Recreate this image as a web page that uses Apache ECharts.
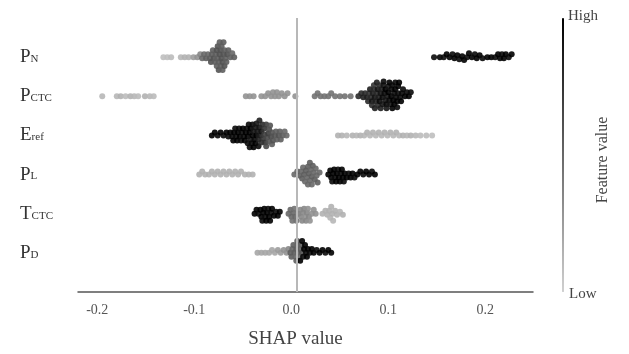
<!DOCTYPE html>
<html>
<head>
<meta charset="utf-8">
<script src="https://cdn.jsdelivr.net/npm/echarts@6/dist/echarts.min.js"></script>
<style>
  html, body { margin: 0; padding: 0; background: #fff; }
  #chart { width: 629px; height: 354px; }
</style>
</head>
<body>
<div id="chart"></div>
<script>
// feature rows, top to bottom
const mainLetters = ['P', 'P', 'E', 'P', 'T', 'P'];
const subLetters = ['N', 'CTC', 'ref', 'L', 'CTC', 'D'];
const xTicks = [-0.2, -0.1, 0, 0.1, 0.2];

// [SHAP value, feature value 0..1]
const pnPoints = [
  [-0.137, 0.08], [-0.133, 0.08], [-0.129, 0.1], [-0.119, 0.12], [-0.115, 0.15], [-0.111, 0.15],
  [-0.106, 0.25], [-0.102, 0.3], [-0.099, 0.35],
  [-0.097, 0.5], [-0.095, 0.5], [-0.093, 0.55], [-0.091, 0.5], [-0.089, 0.55], [-0.088, 0.6],
  [-0.087, 0.55], [-0.086, 0.55], [-0.085, 0.6], [-0.084, 0.55], [-0.083, 0.55], [-0.082, 0.6],
  [-0.082, 0.55], [-0.081, 0.55], [-0.081, 0.6], [-0.080, 0.55], [-0.080, 0.6],
  [-0.079, 0.6], [-0.079, 0.55], [-0.078, 0.6], [-0.078, 0.55],
  [-0.077, 0.6], [-0.077, 0.55], [-0.076, 0.6], [-0.076, 0.55],
  [-0.075, 0.6], [-0.075, 0.55], [-0.074, 0.55], [-0.074, 0.6], [-0.073, 0.55], [-0.072, 0.55],
  [-0.071, 0.6], [-0.070, 0.55], [-0.068, 0.55], [-0.066, 0.5], [-0.064, 0.55],
  [0.142, 0.95], [0.148, 1], [0.152, 0.95], [0.155, 1], [0.158, 1], [0.161, 0.95], [0.163, 1],
  [0.166, 1], [0.168, 0.95], [0.171, 1], [0.173, 1], [0.176, 0.95], [0.178, 1], [0.181, 1],
  [0.184, 0.95], [0.186, 1], [0.189, 1], [0.192, 0.95], [0.197, 1], [0.201, 1], [0.205, 0.95],
  [0.208, 1], [0.210, 1], [0.212, 0.95], [0.214, 1], [0.216, 1], [0.219, 0.95], [0.222, 1]
];
const pctcPoints = [
  [-0.200, 0.12], [-0.185, 0.12], [-0.181, 0.15], [-0.176, 0.1], [-0.171, 0.15], [-0.167, 0.12],
  [-0.163, 0.1], [-0.156, 0.15], [-0.151, 0.12], [-0.147, 0.1],
  [-0.052, 0.3], [-0.048, 0.3], [-0.044, 0.3], [-0.036, 0.3], [-0.032, 0.3], [-0.029, 0.3],
  [-0.026, 0.3], [-0.024, 0.3], [-0.022, 0.3], [-0.020, 0.3], [-0.018, 0.3], [-0.015, 0.3],
  [-0.012, 0.3], [-0.009, 0.3], [-0.001, 0.3],
  [0.019, 0.45], [0.022, 0.45], [0.025, 0.45], [0.029, 0.45], [0.033, 0.45], [0.036, 0.45],
  [0.040, 0.45], [0.045, 0.45], [0.050, 0.45], [0.056, 0.45],
  [0.064, 0.8], [0.067, 0.8], [0.069, 0.85], [0.071, 0.8], [0.073, 0.85], [0.074, 0.8],
  [0.075, 0.75], [0.076, 0.85], [0.077, 0.8], [0.078, 0.9], [0.078, 0.8], [0.079, 0.85],
  [0.080, 0.8], [0.080, 0.75], [0.081, 0.9], [0.081, 0.85], [0.082, 0.85], [0.083, 0.8],
  [0.083, 0.85], [0.084, 0.9], [0.084, 0.8], [0.085, 0.85], [0.086, 0.95], [0.086, 0.8],
  [0.087, 0.9], [0.087, 0.85], [0.088, 0.85], [0.089, 0.95], [0.089, 0.9], [0.090, 0.9],
  [0.090, 0.95], [0.091, 0.95], [0.092, 0.9], [0.092, 1], [0.093, 0.95], [0.093, 0.9],
  [0.094, 0.9], [0.095, 1], [0.095, 0.9], [0.096, 0.95], [0.096, 1], [0.097, 0.9],
  [0.098, 1], [0.098, 0.95], [0.099, 0.95], [0.099, 1], [0.100, 1], [0.101, 0.95],
  [0.101, 1], [0.102, 1], [0.102, 0.95], [0.103, 0.95], [0.104, 1], [0.104, 0.95],
  [0.105, 0.95], [0.105, 1], [0.106, 1], [0.107, 0.95], [0.108, 1], [0.109, 0.95],
  [0.110, 0.95], [0.112, 1], [0.114, 0.95], [0.116, 1], [0.118, 0.95]
];
const erefPoints = [
  [-0.087, 1], [-0.084, 1], [-0.081, 0.95], [-0.078, 1], [-0.075, 0.95], [-0.072, 1],
  [-0.070, 0.95], [-0.068, 1], [-0.066, 0.95], [-0.065, 1], [-0.064, 1], [-0.063, 0.95],
  [-0.062, 0.95], [-0.061, 1], [-0.060, 1], [-0.059, 0.95], [-0.058, 1], [-0.057, 0.95],
  [-0.056, 0.95], [-0.055, 1], [-0.054, 0.95], [-0.053, 1], [-0.052, 1], [-0.051, 0.95],
  [-0.050, 1], [-0.050, 0.95], [-0.049, 0.95], [-0.048, 1], [-0.048, 0.95], [-0.047, 0.9],
  [-0.047, 1], [-0.046, 0.95], [-0.045, 1], [-0.045, 0.95], [-0.044, 0.9], [-0.044, 1],
  [-0.043, 0.95], [-0.042, 0.9], [-0.042, 1], [-0.041, 1], [-0.041, 0.9], [-0.040, 0.9],
  [-0.039, 0.85], [-0.039, 0.95], [-0.038, 0.9], [-0.038, 0.85], [-0.037, 0.85], [-0.036, 0.9],
  [-0.036, 0.8], [-0.035, 0.8],
  [-0.034, 0.75], [-0.033, 0.7], [-0.033, 0.75], [-0.032, 0.75], [-0.031, 0.7], [-0.031, 0.65],
  [-0.030, 0.65], [-0.029, 0.7], [-0.028, 0.65], [-0.028, 0.6], [-0.027, 0.6], [-0.026, 0.65],
  [-0.025, 0.6], [-0.025, 0.55], [-0.024, 0.6], [-0.022, 0.6], [-0.021, 0.55], [-0.020, 0.55],
  [-0.018, 0.6], [-0.017, 0.55], [-0.016, 0.55], [-0.014, 0.55], [-0.012, 0.5], [-0.010, 0.5],
  [0.043, 0.15], [0.047, 0.15], [0.052, 0.12], [0.058, 0.15], [0.062, 0.12], [0.066, 0.15],
  [0.070, 0.12], [0.073, 0.15], [0.076, 0.12], [0.079, 0.15], [0.082, 0.12], [0.085, 0.15],
  [0.088, 0.12], [0.091, 0.15], [0.094, 0.12], [0.097, 0.15], [0.100, 0.12], [0.103, 0.15],
  [0.106, 0.12], [0.110, 0.15], [0.114, 0.12], [0.118, 0.15], [0.123, 0.12], [0.128, 0.1],
  [0.134, 0.1], [0.140, 0.08]
];
const plPoints = [
  [-0.100, 0.15], [-0.097, 0.15], [-0.094, 0.15], [-0.090, 0.15], [-0.087, 0.15], [-0.084, 0.15],
  [-0.081, 0.15], [-0.078, 0.15], [-0.075, 0.15], [-0.072, 0.15], [-0.069, 0.15], [-0.066, 0.15],
  [-0.063, 0.15], [-0.060, 0.15], [-0.057, 0.15], [-0.053, 0.15], [-0.049, 0.15], [-0.045, 0.15],
  [-0.002, 0.5], [0.001, 0.5], [0.003, 0.55], [0.005, 0.5], [0.006, 0.55], [0.007, 0.5],
  [0.008, 0.55], [0.009, 0.5], [0.010, 0.55], [0.011, 0.5], [0.012, 0.55], [0.012, 0.5],
  [0.013, 0.55], [0.014, 0.5], [0.014, 0.55], [0.015, 0.5], [0.016, 0.55], [0.016, 0.5],
  [0.017, 0.55], [0.018, 0.5], [0.019, 0.55], [0.020, 0.5], [0.021, 0.5], [0.022, 0.55],
  [0.024, 0.5],
  [0.033, 1], [0.035, 1], [0.036, 1], [0.037, 0.95], [0.038, 1], [0.039, 1], [0.040, 0.95],
  [0.041, 1], [0.042, 1], [0.043, 0.95], [0.044, 1], [0.045, 1], [0.046, 0.95], [0.047, 1],
  [0.048, 1], [0.049, 0.95], [0.050, 1], [0.052, 1], [0.054, 0.95], [0.056, 1], [0.058, 1],
  [0.060, 0.95], [0.063, 1], [0.066, 1], [0.069, 0.95], [0.072, 1], [0.075, 1], [0.078, 0.95],
  [0.081, 1]
];
const tctcPoints = [
  [-0.043, 1], [-0.041, 1], [-0.039, 0.95], [-0.037, 1], [-0.036, 1], [-0.035, 0.95],
  [-0.034, 1], [-0.033, 1], [-0.032, 0.95], [-0.031, 1], [-0.030, 1], [-0.029, 0.95],
  [-0.028, 1], [-0.027, 1], [-0.026, 0.95], [-0.025, 1], [-0.023, 1], [-0.021, 0.95],
  [-0.019, 1], [-0.017, 1],
  [-0.008, 0.5], [-0.006, 0.5], [-0.005, 0.5], [-0.004, 0.45], [-0.003, 0.5], [-0.002, 0.45],
  [-0.001, 0.5], [0.000, 0.45], [0.002, 0.4], [0.004, 0.35], [0.005, 0.35], [0.006, 0.35],
  [0.007, 0.35], [0.008, 0.35], [0.009, 0.3], [0.010, 0.35], [0.011, 0.35], [0.012, 0.3],
  [0.013, 0.35], [0.014, 0.3], [0.016, 0.3], [0.018, 0.3], [0.020, 0.3],
  [0.027, 0.15], [0.030, 0.15], [0.032, 0.15], [0.034, 0.15], [0.035, 0.12], [0.036, 0.15],
  [0.037, 0.15], [0.038, 0.12], [0.040, 0.15], [0.042, 0.15], [0.045, 0.12], [0.048, 0.15]
];
const pdPoints = [
  [-0.040, 0.2], [-0.036, 0.2], [-0.032, 0.2], [-0.028, 0.2], [-0.025, 0.2], [-0.022, 0.2],
  [-0.019, 0.25], [-0.016, 0.25], [-0.013, 0.3], [-0.010, 0.3], [-0.008, 0.35],
  [-0.006, 0.55], [-0.005, 0.55], [-0.004, 0.5], [-0.003, 0.55], [-0.002, 0.55], [-0.001, 0.5],
  [0.000, 0.55], [0.000, 0.55], [0.001, 0.5], [0.001, 0.55], [0.002, 0.55], [0.003, 0.5],
  [0.004, 0.55], [0.005, 0.55], [0.006, 0.6],
  [0.004, 1], [0.006, 1], [0.007, 0.95], [0.008, 1], [0.009, 1], [0.010, 0.95], [0.011, 1],
  [0.012, 1], [0.014, 0.95], [0.016, 1], [0.018, 1], [0.021, 0.95], [0.024, 1], [0.027, 1],
  [0.030, 0.95], [0.033, 1], [0.036, 1]
];
const rowPoints = [pnPoints, pctcPoints, erefPoints, plPoints, tctcPoints, pdPoints];

const xMin = -0.225, xMax = 0.244;
const gridLeft = 78, gridRight = 96, gridTop = 18, gridBottom = 60;
const pxPerUnit = (629 - gridLeft - gridRight) / (xMax - xMin);
const pxPerRow = (354 - gridTop - gridBottom) / 7;
const dotGap = 3.6;

// simple deterministic beeswarm: stack overlapping dots vertically around the row
function swarm(points, row) {
  const sorted = points.slice().sort((a, b) => a[0] - b[0]);
  const placed = [];
  return sorted.map(([v, f]) => {
    const px = (v - xMin) * pxPerUnit;
    let dy = 0;
    for (let k = 0; k < 80; k++) {
      const cand = (k % 2 ? 1 : -1) * Math.ceil(k / 2);
      const hit = placed.some(p => Math.hypot(p[0] - px, p[1] - cand) < dotGap);
      if (!hit) { dy = cand; break; }
    }
    placed.push([px, dy]);
    return [v, row + dy / pxPerRow, f];
  });
}

const swarmData = [];
rowPoints.forEach((pts, i) => swarmData.push(...swarm(pts, 6 - i)));

const serif = '"Liberation Serif", "DejaVu Serif", serif';
const chart = echarts.init(document.getElementById('chart'));

chart.setOption({
  animation: false,
  grid: { left: gridLeft, right: gridRight, top: gridTop, bottom: gridBottom },
  xAxis: {
    type: 'value', min: xMin, max: xMax,
    axisLine: { lineStyle: { color: '#555', width: 1.5 } },
    axisTick: { show: false },
    splitLine: { show: false },
    axisLabel: {
      customValues: xTicks,
      formatter: v => v.toFixed(1),
      fontFamily: serif, fontSize: 14, color: '#555', margin: 11,
      padding: [0, 10, 0, 0]
    },
    name: 'SHAP value', nameLocation: 'middle', nameGap: 38,
    nameTextStyle: { fontFamily: serif, fontSize: 19, color: '#444', padding: [0, 20, 0, 0] }
  },
  yAxis: {
    type: 'value', min: 0, max: 7,
    axisLine: { show: false },
    axisTick: { show: false },
    splitLine: { show: false },
    axisLabel: {
      customValues: [1, 2, 3, 4, 5, 6],
      align: 'left', margin: 58,
      formatter: v => `{m|${mainLetters[6 - v]}}{s|${subLetters[6 - v]}}`,
      rich: {
        m: { fontFamily: serif, fontSize: 19, color: '#333', verticalAlign: 'bottom' },
        s: { fontFamily: serif, fontSize: 11, color: '#333', verticalAlign: 'bottom', padding: [0, 0, 2, 0] }
      }
    }
  },
  visualMap: {
    type: 'continuous', min: 0, max: 1, dimension: 2, seriesIndex: 1,
    inRange: { color: ['#d0d0d0', '#000000'] },
    orient: 'vertical', left: 562, top: 18, itemWidth: 2, itemHeight: 274,
    padding: 0, calculable: false, hoverLink: false
  },
  graphic: [
    { type: 'text', left: 568, top: 9, style: { text: 'High', font: '15px ' + serif, fill: '#444' } },
    { type: 'text', left: 569, top: 287, style: { text: 'Low', font: '15px ' + serif, fill: '#444' } },
    {
      type: 'text', x: 603, y: 160, rotation: Math.PI / 2,
      style: { text: 'Feature value', font: '16px ' + serif, fill: '#444', textAlign: 'center', textVerticalAlign: 'middle' }
    }
  ],
  series: [
    {
      type: 'scatter', data: [], z: 1,
      markLine: {
        silent: true, symbol: 'none', label: { show: false },
        lineStyle: { color: '#b8b8b8', width: 2, type: 'solid' },
        data: [{ xAxis: 0 }]
      }
    },
    {
      type: 'scatter', z: 2,
      symbolSize: 6,
      itemStyle: { opacity: 0.9 },
      data: swarmData
    }
  ]
});
</script>
</body>
</html>
